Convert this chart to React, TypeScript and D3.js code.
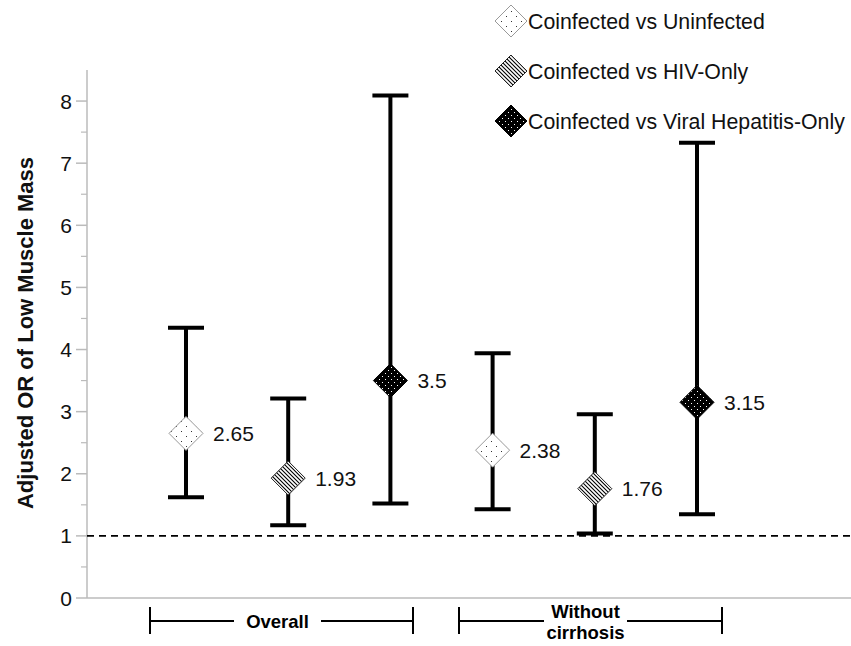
import React from "react";
import * as d3 from "d3";

const series = ["Coinfected vs Uninfected", "Coinfected vs HIV-Only", "Coinfected vs Viral Hepatitis-Only"];
const groups = ["Overall", "Without cirrhosis"];
const estimates = [[2.65, 1.93, 3.5], [2.38, 1.76, 3.15]];
const lowerCI = [[1.62, 1.17, 1.52], [1.43, 1.04, 1.35]];
const upperCI = [[4.35, 3.21, 8.09], [3.94, 2.96, 7.33]];
const labels = [["2.65", "1.93", "3.5"], ["2.38", "1.76", "3.15"]];
const yTicks = [0, 1, 2, 3, 4, 5, 6, 7, 8];
const refLine = 1;

const W = 851, H = 646;
const font = "'Liberation Sans', Arial, sans-serif";

export default function App() {
  const y = d3.scaleLinear().domain([0, 8.5]).range([598, 70]);
  const x = d3.scaleLinear().domain([0, 5]).range([186, 697]);
  const minor = d3.range(0.5, 8.5, 1);
  const fills = ["url(#dots)", "url(#stripes)", "url(#darkdots)"];
  const strokes = ["#999", "#222", "#000"];
  const diamond = (cx: number, cy: number, r: number) =>
    `M${cx},${cy - r}L${cx + r},${cy}L${cx},${cy + r}L${cx - r},${cy}Z`;
  const axisX = 87;

  const brackets = [
    { x0: 150, x1: 413, gap0: 234, gap1: 321, lines: ["Overall"] },
    { x0: 459, x1: 722, gap0: 544, gap1: 627, lines: ["Without", "cirrhosis"] },
  ];

  return (
    <svg width={W} height={H} style={{ position: "absolute", left: 0, top: 0, background: "#fff" }}>
      <defs>
        <pattern id="dots" width="10" height="10" patternUnits="userSpaceOnUse">
          <rect width="10" height="10" fill="#fff" />
          <rect x="1" y="1" width="1" height="1" fill="#333" />
          <rect x="6" y="6" width="1" height="1" fill="#333" />
        </pattern>
        <pattern id="stripes" width="4" height="4" patternUnits="userSpaceOnUse">
          <rect width="4" height="4" fill="#fff" />
          <path d="M-1,-1L5,5M-1,3L1,5M3,-1L5,1" stroke="#000" strokeWidth="1.1" />
        </pattern>
        <pattern id="darkdots" width="6" height="6" patternUnits="userSpaceOnUse">
          <rect width="6" height="6" fill="#000" />
          <rect x="1" y="1" width="1" height="1" fill="#fff" />
          <rect x="4" y="4" width="1" height="1" fill="#fff" />
        </pattern>
      </defs>

      {/* y axis */}
      <line x1={axisX} x2={axisX} y1={y(8.5)} y2={y(0)} stroke="#bbb" strokeWidth={1.5} />
      {yTicks.map((t) => (
        <g key={t}>
          <line x1={axisX - 11} x2={axisX} y1={y(t)} y2={y(t)} stroke="#bbb" strokeWidth={1.5} />
          <text x={72} y={y(t)} dy="0.36em" textAnchor="end" fontFamily={font} fontSize={21} fill="#111">{t}</text>
        </g>
      ))}
      {minor.map((t) => (
        <line key={t} x1={axisX - 6} x2={axisX} y1={y(t)} y2={y(t)} stroke="#bbb" strokeWidth={1.2} />
      ))}
      <line x1={axisX} x2={W} y1={y(0)} y2={y(0)} stroke="#bbb" strokeWidth={1.5} />

      <text transform={`translate(33,${333}) rotate(-90)`} textAnchor="middle" fontFamily={font} fontWeight="bold" fontSize={22} fill="#111">
        Adjusted OR of Low Muscle Mass
      </text>

      {/* reference line */}
      <line x1={axisX} x2={W} y1={y(refLine)} y2={y(refLine)} stroke="#000" strokeWidth={1.6} strokeDasharray="7,5" />

      {/* error bars and points */}
      {groups.map((g, gi) =>
        series.map((s, si) => {
          const cx = x(gi * 3 + si);
          const cy = y(estimates[gi][si]);
          return (
            <g key={`${gi}-${si}`}>
              <line x1={cx} x2={cx} y1={y(upperCI[gi][si])} y2={y(lowerCI[gi][si])} stroke="#000" strokeWidth={4} />
              <line x1={cx - 18} x2={cx + 18} y1={y(upperCI[gi][si])} y2={y(upperCI[gi][si])} stroke="#000" strokeWidth={4} />
              <line x1={cx - 18} x2={cx + 18} y1={y(lowerCI[gi][si])} y2={y(lowerCI[gi][si])} stroke="#000" strokeWidth={4} />
              <path d={diamond(cx, cy, 17)} fill={fills[si]} stroke={strokes[si]} strokeWidth={1} />
              <text x={cx + 27} y={cy} dy="0.36em" fontFamily={font} fontSize={21} fill="#111">{labels[gi][si]}</text>
            </g>
          );
        })
      )}

      {/* group brackets */}
      {brackets.map((b, i) => (
        <g key={i} stroke="#000" strokeWidth={2}>
          <line x1={b.x0} x2={b.x0} y1={607} y2={634} />
          <line x1={b.x1} x2={b.x1} y1={607} y2={634} />
          <line x1={b.x0} x2={b.gap0} y1={621} y2={621} />
          <line x1={b.gap1} x2={b.x1} y1={621} y2={621} />
          {b.lines.length === 1 ? (
            <text x={(b.gap0 + b.gap1) / 2} y={621} dy="0.36em" textAnchor="middle" stroke="none" fontFamily={font} fontWeight="bold" fontSize={18.5} fill="#000">{b.lines[0]}</text>
          ) : (
            b.lines.map((l, li) => (
              <text key={li} x={(b.gap0 + b.gap1) / 2} y={618 + li * 21} textAnchor="middle" stroke="none" fontFamily={font} fontWeight="bold" fontSize={18.5} fill="#000">{l}</text>
            ))
          )}
        </g>
      ))}

      {/* legend */}
      {series.map((s, i) => (
        <g key={s}>
          <path d={diamond(511, 21 + i * 50, 16)} fill={fills[i]} stroke={strokes[i]} strokeWidth={1} />
          <text x={528} y={21 + i * 50} dy="0.36em" fontFamily={font} fontSize={21.3} fill="#111">{s}</text>
        </g>
      ))}
    </svg>
  );
}
